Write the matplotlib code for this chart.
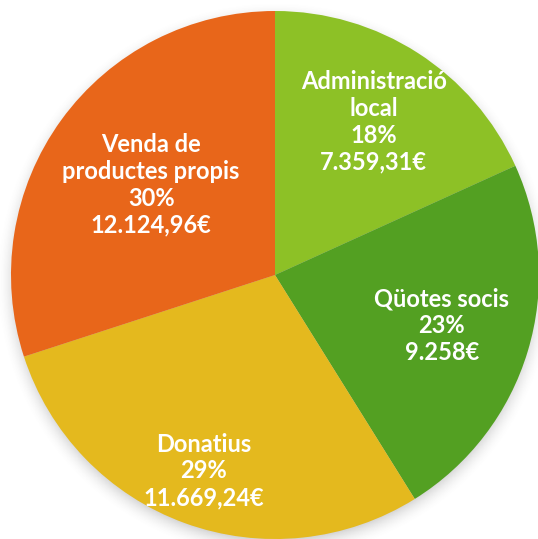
import numpy as np
import matplotlib
matplotlib.use("Agg")
import matplotlib.pyplot as plt

# --- Data ---
categories = ["Administració\nlocal", "Qüotes socis", "Donatius", "Venda de\nproductes propis"]
amounts = [7359.31, 9258.00, 11669.24, 12124.96]
colors = ["#8dc126", "#53a022", "#e4b91e", "#e8661a"]
label_dist = [0.69, 0.66, 0.79, 0.58]


def fmt_eur(v):
    if float(v).is_integer():
        s = f"{int(v):,}".replace(",", ".")
    else:
        s = f"{v:,.2f}".replace(",", "X").replace(".", ",").replace("X", ".")
    return s + "€"


W, H = 538, 539
fig = plt.figure(figsize=(W / 100, H / 100), dpi=100)
ax = fig.add_axes([0, 0, 1, 1])

cx, cy, r = 275, 275, 264  # pixel centre / radius of the pie
xlim = (-cx / r, (W - cx) / r)
ylim = (-(H - cy) / r, cy / r)

wedges, _ = ax.pie(amounts, colors=colors, startangle=90, counterclock=False,
                   radius=1.0, wedgeprops=dict(linewidth=0))
for w in wedges:
    w.set_zorder(2)

# soft shadow behind the pie
xs = np.linspace(xlim[0], xlim[1], 400)
ys = np.linspace(ylim[0], ylim[1], 400)
X, Y = np.meshgrid(xs, ys)
d = np.sqrt(X ** 2 + (Y + 0.02) ** 2)
alpha = np.clip(1 - (d - 0.97) / 0.09, 0, 1) ** 2 * 0.35
shadow = np.zeros((400, 400, 4))
shadow[..., :3] = 0.35
shadow[..., 3] = alpha
ax.imshow(shadow, extent=(xs[0], xs[-1], ys[0], ys[-1]), origin="lower", zorder=0)

total = sum(amounts)
for w, cat, val, dist in zip(wedges, categories, amounts, label_dist):
    ang = np.deg2rad((w.theta1 + w.theta2) / 2)
    txt = f"{cat}\n{val / total * 100:.0f}%\n{fmt_eur(val)}"
    ax.text(dist * np.cos(ang), dist * np.sin(ang), txt, ha="center", va="center",
            color="white", fontsize=17, fontweight="bold", family="Lato",
            linespacing=1.2, zorder=3)

ax.set_xlim(*xlim)
ax.set_ylim(*ylim)
ax.set_aspect("equal")
ax.set_axis_off()

fig.savefig("out.png", dpi=100)
